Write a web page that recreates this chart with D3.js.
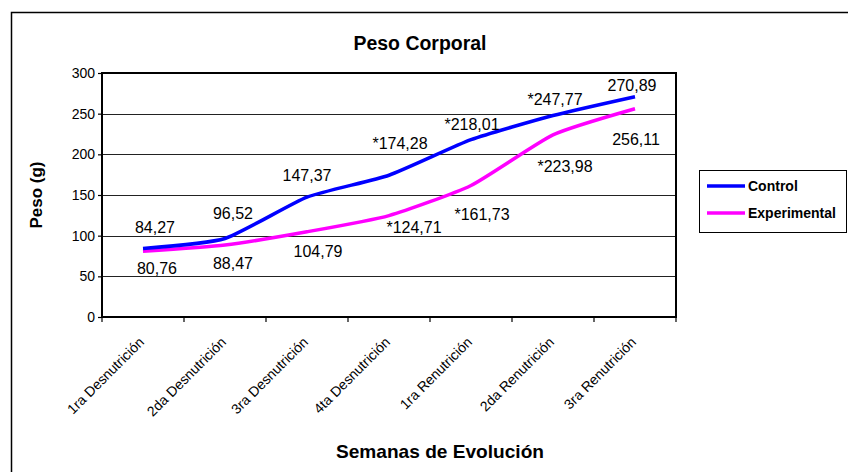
<!DOCTYPE html>
<html>
<head>
<meta charset="utf-8">
<script src="https://cdn.jsdelivr.net/npm/d3@7"></script>
<style>
  html, body { margin: 0; padding: 0; background: #fff; }
  svg { display: block; font-family: "Liberation Sans", Arial, sans-serif; }
</style>
</head>
<body>
<svg id="chart" width="848" height="472"></svg>
<script>
// ---- data ----
const categories = ["1ra Desnutrición", "2da Desnutrición", "3ra Desnutrición", "4ta Desnutrición",
                    "1ra Renutrición", "2da Renutrición", "3ra Renutrición"];
const controlValues = [84.27, 96.52, 147.37, 174.28, 218.01, 247.77, 270.89];
const experimentalValues = [80.76, 88.47, 104.79, 124.71, 161.73, 223.98, 256.11];
const controlStar = [false, false, false, true, true, true, false];
const experimentalStar = [false, false, false, true, true, true, false];
const yTicks = [0, 50, 100, 150, 200, 250, 300];
const seriesNames = ["Control", "Experimental"];

// ---- layout (label offsets from their points, px) ----
const controlLabelOffsets = [[12, -21], [8, -25], [0, -22], [11, -32], [1, -15], [2, -16], [-3, -11]];
const experimentalLabelOffsets = [[14, 17], [8, 18], [11, 20], [25, 12], [11, 29], [12, 32], [1, 31]];

const svg = d3.select("#chart");
const plot = { left: 102, right: 676, top: 73, bottom: 317 };

// outer chart border
svg.append("rect").attr("x", 11.5).attr("y", 12.5).attr("width", 900).attr("height", 500)
  .attr("fill", "none").attr("stroke", "#000").attr("stroke-width", 1.5);

const x = d3.scalePoint().domain(categories).range([plot.left, plot.right]).padding(0.5);
const y = d3.scaleLinear().domain([0, 300]).range([plot.bottom, plot.top]);
const band = (plot.right - plot.left) / categories.length;

// gridlines
svg.append("g").selectAll("line").data(yTicks.filter(d => d > 0 && d < 300)).join("line")
  .attr("x1", plot.left).attr("x2", plot.right)
  .attr("y1", d => Math.round(y(d)) + 0.5).attr("y2", d => Math.round(y(d)) + 0.5)
  .attr("stroke", "#222").attr("stroke-width", 1);

// plot border
svg.append("rect").attr("x", plot.left).attr("y", plot.top)
  .attr("width", plot.right - plot.left).attr("height", plot.bottom - plot.top)
  .attr("fill", "none").attr("stroke", "#000").attr("stroke-width", 2);

// y axis
const yAxis = d3.axisLeft(y).tickValues(yTicks).tickSize(4).tickPadding(3);
const gy = svg.append("g").attr("transform", `translate(${plot.left},0)`).call(yAxis);
gy.select(".domain").remove();
gy.selectAll(".tick line").attr("stroke", "#000").attr("stroke-width", 1.2);
gy.selectAll(".tick text").attr("font-size", 14).attr("fill", "#000")
  .attr("font-family", "Liberation Sans, Arial, sans-serif");

// x ticks at category boundaries
const boundaries = d3.range(categories.length + 1).map(i => plot.left + i * band);
svg.append("g").selectAll("line").data(boundaries).join("line")
  .attr("x1", d => d).attr("x2", d => d)
  .attr("y1", plot.bottom).attr("y2", plot.bottom + 5)
  .attr("stroke", "#000").attr("stroke-width", 1.2);

// x labels rotated
svg.append("g").selectAll("text").data(categories).join("text")
  .attr("transform", d => `translate(${x(d) + 2},${plot.bottom + 26}) rotate(-45)`)
  .attr("text-anchor", "end")
  .attr("font-size", 14).attr("fill", "#000")
  .text(d => d);

// lines
const line = d3.line().x((d, i) => x(categories[i])).y(d => y(d)).curve(d3.curveCardinal.tension(0.45));
svg.append("path").datum(experimentalValues).attr("d", line)
  .attr("fill", "none").attr("stroke", "#FF00FF").attr("stroke-width", 3.5);
svg.append("path").datum(controlValues).attr("d", line)
  .attr("fill", "none").attr("stroke", "#0000FF").attr("stroke-width", 3.5);

// data labels
const fmt = v => d3.format(".2f")(v).replace(".", ",");
function labels(values, stars, offsets) {
  svg.append("g").selectAll("text").data(values).join("text")
    .attr("x", (d, i) => x(categories[i]) + offsets[i][0])
    .attr("y", (d, i) => y(d) + offsets[i][1])
    .attr("dy", "0.35em")
    .attr("text-anchor", "middle")
    .attr("font-size", 16).attr("fill", "#000")
    .text((d, i) => (stars[i] ? "*" : "") + fmt(d));
}
labels(controlValues, controlStar, controlLabelOffsets);
labels(experimentalValues, experimentalStar, experimentalLabelOffsets);

// title
svg.append("text").attr("x", 420).attr("y", 50).attr("text-anchor", "middle")
  .attr("font-size", 20).attr("font-weight", "bold").attr("textLength", 133)
  .attr("lengthAdjust", "spacingAndGlyphs").text("Peso Corporal");

// axis titles
svg.append("text").attr("transform", "translate(42,195) rotate(-90)")
  .attr("text-anchor", "middle").attr("font-size", 17).attr("font-weight", "bold")
  .text("Peso (g)");
svg.append("text").attr("x", 440).attr("y", 458).attr("text-anchor", "middle")
  .attr("font-size", 19).attr("font-weight", "bold").attr("textLength", 208)
  .attr("lengthAdjust", "spacingAndGlyphs").text("Semanas de Evolución");

// legend
const lg = svg.append("g");
lg.append("rect").attr("x", 699.5).attr("y", 170.5).attr("width", 147).attr("height", 62)
  .attr("fill", "#fff").attr("stroke", "#000").attr("stroke-width", 1);
const legendColors = ["#0000FF", "#FF00FF"];
const legendY = [186, 213];
seriesNames.forEach((name, i) => {
  lg.append("line").attr("x1", 707).attr("x2", 745).attr("y1", legendY[i]).attr("y2", legendY[i])
    .attr("stroke", legendColors[i]).attr("stroke-width", 3.5);
  lg.append("text").attr("x", 748).attr("y", legendY[i]).attr("dy", "0.35em")
    .attr("font-size", 14).attr("font-weight", "bold").text(name);
});
</script>
</body>
</html>
